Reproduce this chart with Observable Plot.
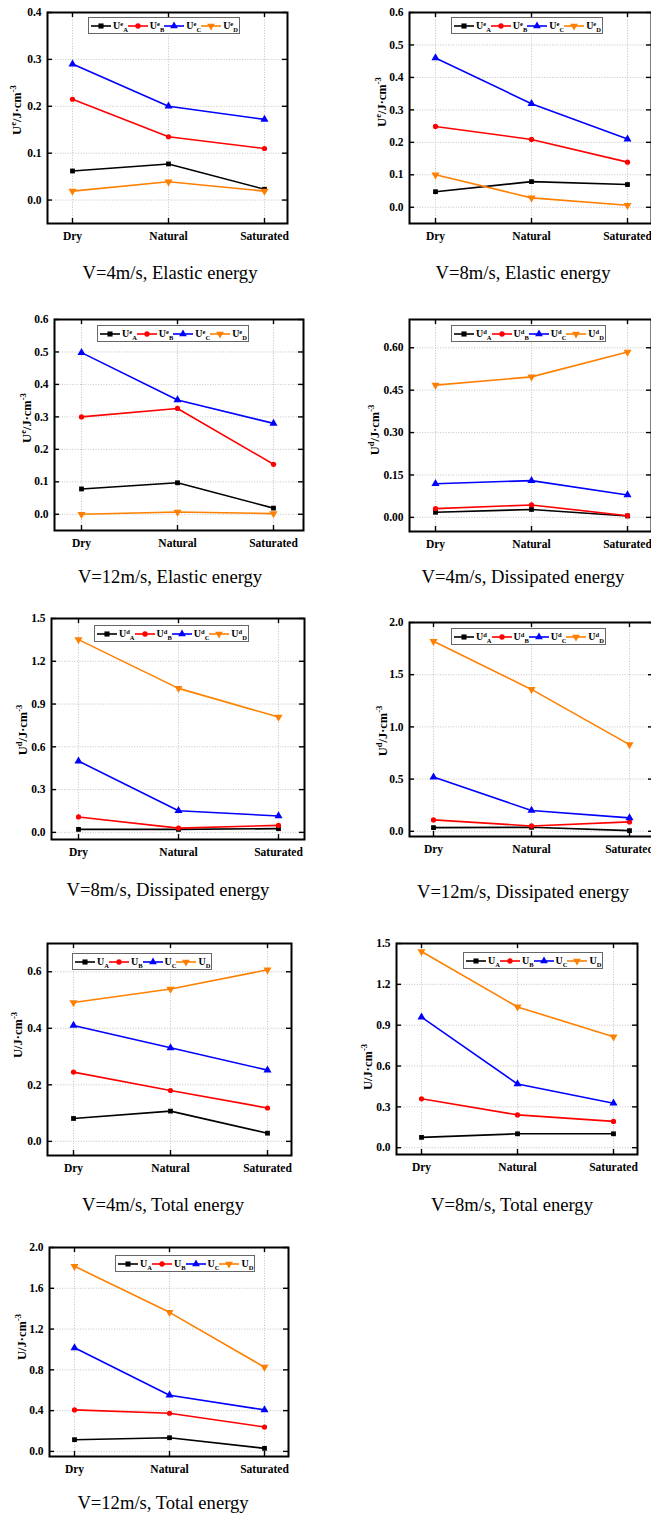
<!DOCTYPE html>
<html><head><meta charset="utf-8">
<script src="https://cdn.jsdelivr.net/npm/d3@7"></script>
<script src="https://cdn.jsdelivr.net/npm/@observablehq/plot@0.6"></script>
<style>
body{margin:0;background:#fff;}
#root{position:relative;width:651px;height:1515px;overflow:hidden;background:#fff;}
#root svg.plot{position:absolute;overflow:visible;}
.cap{position:absolute;font-family:"Liberation Serif","Times New Roman",serif;font-size:18.6px;white-space:nowrap;transform:translate(-50%,-50%);color:#000;}
.ylab{position:absolute;font-family:"Liberation Serif","Times New Roman",serif;font-weight:bold;font-size:12.5px;white-space:nowrap;transform:translate(-50%,-50%) rotate(-90deg);line-height:1;}
.ylab .sp{font-size:8.5px;position:relative;top:-5px;}
.leg{position:absolute;border:1px solid #666;background:#fff;display:flex;align-items:center;height:15px;padding:0 1px 0 2px;font-family:"Liberation Serif","Times New Roman",serif;font-weight:bold;font-size:10px;line-height:1;white-space:nowrap;}
.leg svg{display:block;}
.leg .lb{display:inline-block;margin:0 0 0 2px;}
.leg .sp{font-size:6.5px;position:relative;top:-3px;}
.leg .sb{font-size:6.5px;position:relative;top:3px;}
</style></head>
<body><div id="root"></div>
<script>
// ---------- data ----------
const conditions = ["Dry", "Natural", "Saturated"];
const series = ["A", "B", "C", "D"];
const colors = ["#000000", "#ff0000", "#0000ff", "#ff8000"];

// rows: A, B, C, D ; columns: Dry, Natural, Saturated
const elastic4  = [[0.062, 0.077, 0.023], [0.215, 0.135, 0.110], [0.290, 0.200, 0.172], [0.019, 0.039, 0.019]];
const elastic8  = [[0.048, 0.079, 0.070], [0.249, 0.209, 0.139], [0.460, 0.319, 0.210], [0.100, 0.029, 0.006]];
const elastic12 = [[0.078, 0.097, 0.019], [0.300, 0.326, 0.154], [0.498, 0.352, 0.280], [0.000, 0.007, 0.002]];
const dissip4   = [[0.018, 0.028, 0.005], [0.031, 0.044, 0.006], [0.119, 0.130, 0.079], [0.468, 0.497, 0.585]];
const dissip8   = [[0.021, 0.021, 0.026], [0.108, 0.030, 0.049], [0.500, 0.152, 0.115], [1.352, 1.010, 0.809]];
const dissip12  = [[0.035, 0.038, 0.006], [0.109, 0.051, 0.090], [0.519, 0.199, 0.128], [1.820, 1.359, 0.830]];
const total4    = [[0.081, 0.107, 0.029], [0.245, 0.180, 0.118], [0.410, 0.331, 0.252], [0.491, 0.539, 0.607]];
const total8    = [[0.076, 0.102, 0.102], [0.359, 0.241, 0.193], [0.959, 0.468, 0.327], [1.441, 1.034, 0.815]];
const total12   = [[0.115, 0.134, 0.030], [0.407, 0.374, 0.239], [1.016, 0.551, 0.407], [1.816, 1.364, 0.826]];

const ticks04 = [0, 0.1, 0.2, 0.3, 0.4];
const ticks06 = [0, 0.1, 0.2, 0.3, 0.4, 0.5, 0.6];
const ticks060b = [0, 0.15, 0.30, 0.45, 0.60];
const ticks15 = [0, 0.3, 0.6, 0.9, 1.2, 1.5];
const ticks20h = [0, 0.5, 1.0, 1.5, 2.0];
const ticks06t = [0, 0.2, 0.4, 0.6];
const ticks20q = [0, 0.4, 0.8, 1.2, 1.6, 2.0];

const captions = [
  "V=4m/s, Elastic energy", "V=8m/s, Elastic energy", "V=12m/s, Elastic energy",
  "V=4m/s, Dissipated energy", "V=8m/s, Dissipated energy", "V=12m/s, Dissipated energy",
  "V=4m/s, Total energy", "V=8m/s, Total energy", "V=12m/s, Total energy"
];
const kinds = ["e", "e", "e", "d", "d", "d", "", "", ""];

// ---------- layout ----------
const panels = [
  {values: elastic4,  ticks: ticks04,  top: 0.4, dec: 1, L: 47,  T: 12,   R: 287, B: 223,  il: 24, ir: 23, cap: [170, 273],  yl: [17, 110],  leg: [88, 17]},
  {values: elastic8,  ticks: ticks06,  top: 0.6, dec: 1, L: 409, T: 12,   R: 651, B: 223,  il: 25, ir: 24, cap: [523, 273],  yl: [382, 102], leg: [451, 17]},
  {values: elastic12, ticks: ticks06,  top: 0.6, dec: 1, L: 54,  T: 319,  R: 303, B: 530,  il: 26, ir: 30, cap: [170, 577],  yl: [27, 418],  leg: [97, 325]},
  {values: dissip4,   ticks: ticks060b, top: 0.70, dec: 2, L: 409, T: 319, R: 651, B: 531, il: 25, ir: 24, cap: [523, 577],  yl: [375, 430], leg: [451, 325]},
  {values: dissip8,   ticks: ticks15,  top: 1.5, dec: 1, L: 51,  T: 618,  R: 304, B: 839,  il: 26, ir: 26, cap: [168, 890],  yl: [23, 730],  leg: [94, 625]},
  {values: dissip12,  ticks: ticks20h, top: 2.0, dec: 1, L: 409, T: 622,  R: 653, B: 836,  il: 24, ir: 24, cap: [523, 892],  yl: [383, 731], leg: [451, 628]},
  {values: total4,    ticks: ticks06t, top: 0.7, dec: 1, L: 47,  T: 943,  R: 291, B: 1155, il: 25, ir: 24, cap: [163, 1205], yl: [18, 1035], leg: [72, 953]},
  {values: total8,    ticks: ticks15,  top: 1.5, dec: 1, L: 396, T: 943,  R: 637, B: 1154, il: 24, ir: 24, cap: [512, 1205], yl: [368, 1067], leg: [463, 952]},
  {values: total12,   ticks: ticks20q, top: 2.0, dec: 1, L: 49,  T: 1247, R: 288, B: 1456, il: 24, ir: 24, cap: [163, 1503], yl: [22, 1337], leg: [115, 1255]}
];

const triangleDown = {
  draw(context, size) {
    const y = Math.sqrt(size / (Math.sqrt(3) * 3));
    context.moveTo(0, y * 2);
    context.lineTo(-Math.sqrt(3) * y, -y);
    context.lineTo(Math.sqrt(3) * y, -y);
    context.closePath();
  }
};
const symbols = [d3.symbolSquare, d3.symbolCircle, d3.symbolTriangle, triangleDown];
const symR = [2.7, 2.6, 3.0, 3.0];

const root = document.getElementById("root");
const FONT = '"Liberation Serif","Times New Roman",serif';

panels.forEach((p, k) => {
  const ml = 45, mr = 12, mt = 8, mb = 30;
  const W = p.R - p.L, H = p.B - p.T;
  const rows = [];
  p.values.forEach((arr, si) => arr.forEach((v, ci) => rows.push({cond: conditions[ci], s: series[si], v})));
  const fmt = d3.format("." + p.dec + "f");
  const marks = [
    Plot.ruleY(p.ticks, {y: d => d, stroke: "#b5b5b5", strokeWidth: 0.8, strokeDasharray: "1,1.6"}),
    Plot.ruleX(conditions, {x: d => d, stroke: "#b5b5b5", strokeWidth: 0.8, strokeDasharray: "1,1.6"}),
    Plot.ruleY(p.ticks, {y: d => d, insetRight: W - 5, stroke: "#000", strokeWidth: 1.4}),
    Plot.ruleY(p.ticks, {y: d => d, insetLeft: W - 5, stroke: "#000", strokeWidth: 1.4}),
    Plot.ruleX(conditions, {x: d => d, insetTop: H - 5, stroke: "#000", strokeWidth: 1.4}),
    Plot.ruleX(conditions, {x: d => d, insetBottom: H - 5, stroke: "#000", strokeWidth: 1.4}),
    Plot.axisY(p.ticks, {tickSize: 0, tickPadding: 6, tickFormat: fmt, label: null, fontFamily: FONT, fontWeight: "bold", fontSize: 11.5, fill: "#000"}),
    Plot.axisX(conditions, {tickSize: 0, tickPadding: 8, label: null, fontFamily: FONT, fontWeight: "bold", fontSize: 11.5, fill: "#000"})
  ];
  series.forEach((s, si) => {
    const sub = rows.filter(r => r.s === s);
    marks.push(Plot.line(sub, {x: "cond", y: "v", stroke: colors[si], strokeWidth: 1.6}));
    marks.push(Plot.dot(sub, {x: "cond", y: "v", fill: colors[si], stroke: "none", symbol: symbols[si], r: symR[si]}));
  });
  marks.push(Plot.frame({stroke: "#000", strokeWidth: 2}));
  const svg = Plot.plot({
    width: W + ml + mr, height: H + mt + mb,
    marginLeft: ml, marginRight: mr, marginTop: mt, marginBottom: mb,
    style: {fontFamily: FONT, background: "transparent", color: "#000"},
    x: {type: "point", domain: conditions, padding: 0, insetLeft: p.il, insetRight: p.ir},
    y: {domain: [-0.05, p.top]},
    marks
  });
  svg.classList.add("plot");
  svg.style.left = (p.L - ml) + "px";
  svg.style.top = (p.T - mt) + "px";
  root.appendChild(svg);

  // y-axis label
  const yl = document.createElement("div");
  yl.className = "ylab";
  yl.style.left = p.yl[0] + "px";
  yl.style.top = p.yl[1] + "px";
  yl.innerHTML = "U" + (kinds[k] ? `<span class="sp">${kinds[k]}</span>` : "") + '/J·cm<span class="sp">-3</span>';
  root.appendChild(yl);

  // legend
  const lg = document.createElement("div");
  lg.className = "leg";
  lg.style.left = p.leg[0] + "px";
  lg.style.top = p.leg[1] + "px";
  series.forEach((s, si) => {
    const path = d3.symbol(symbols[si], si === 1 ? 22 : 26)();
    const sw = `<svg width="20" height="10"><line x1="0" x2="20" y1="5" y2="5" stroke="${colors[si]}" stroke-width="1.6"/><path transform="translate(10,5)" d="${path}" fill="${colors[si]}"/></svg>`;
    const lab = `<span class="lb">U${kinds[k] ? `<span class="sp">${kinds[k]}</span>` : ""}<span class="sb">${s}</span></span>`;
    lg.insertAdjacentHTML("beforeend", sw + lab);
  });
  root.appendChild(lg);

  // caption
  const cp = document.createElement("div");
  cp.className = "cap";
  cp.style.left = p.cap[0] + "px";
  cp.style.top = p.cap[1] + "px";
  cp.textContent = captions[k];
  root.appendChild(cp);
});
</script>
</body></html>
